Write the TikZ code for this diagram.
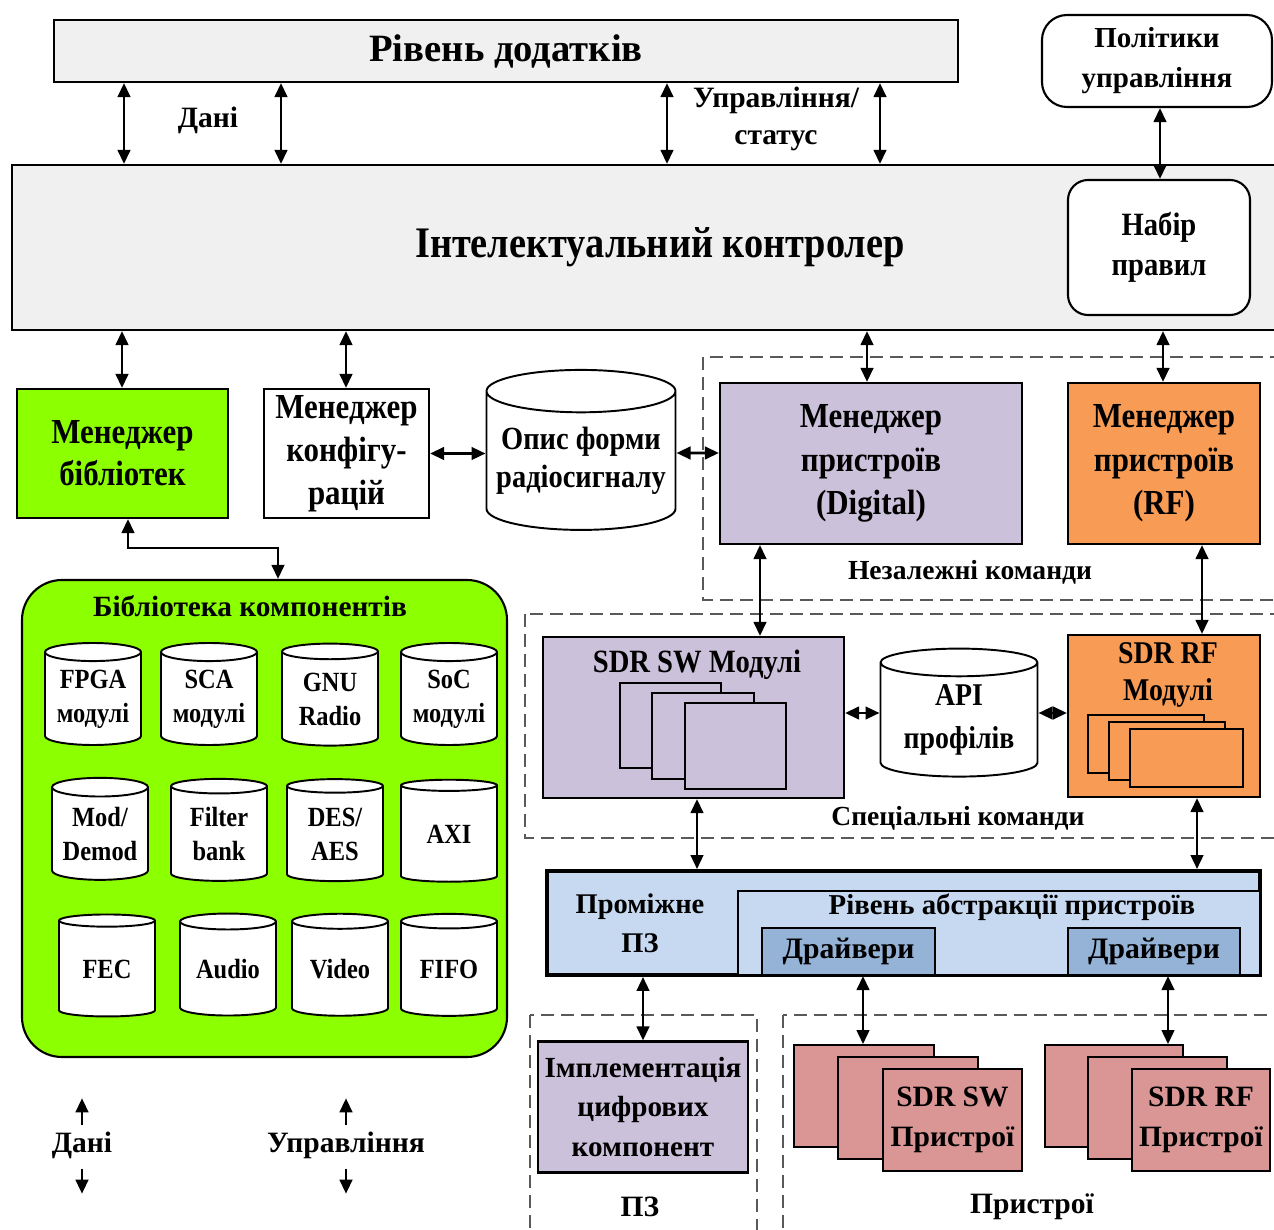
\documentclass[tikz,border=0pt]{standalone}
\usepackage{fontspec}
\setmainfont{Liberation Serif}
\newfontfamily\condfont{Liberation Serif}[FakeStretch=0.88]
\usetikzlibrary{arrows.meta,shapes.geometric,fit,positioning}
\definecolor{lgray}{HTML}{F0F0F0}
\definecolor{libgreen}{HTML}{8CFF00}
\definecolor{lav}{HTML}{CCC1DA}
\definecolor{rforange}{HTML}{F79B55}
\definecolor{mwblue}{HTML}{C6D9F1}
\definecolor{drvblue}{HTML}{95B3D7}
\definecolor{devpink}{HTML}{DA9694}
\begin{document}
\begin{tikzpicture}[x=0.2mm,y=-0.2mm,
  fnt/.style 2 args={font=\bfseries\fontsize{#1}{#2}\selectfont},
  cfnt/.style 2 args={font=\condfont\bfseries\fontsize{#1}{#2}\selectfont},
  sz/.style 2 args={minimum width=#1, minimum height=#2},
  box/.style={draw, line width=1.2pt, inner sep=0pt, align=center},
  page/.style={draw, line width=1pt, inner sep=0pt, align=center},
  db/.style={cylinder, shape border rotate=90, aspect=0.25, draw, fill=white,
    line width=1.1pt, inner sep=0pt, align=center},
  cell/.style={db, minimum width=19.2mm, minimum height=20.4mm, cfnt={15.8}{19.3}},
  lbl/.style={inner sep=0pt, align=center},
  arr/.style={{Triangle[length=2.8mm,width=2.5mm]}-{Triangle[length=2.8mm,width=2.5mm]}, line width=1.5pt},
  tip/.style={-{Triangle[length=2.8mm,width=2.5mm]}, line width=1.5pt},
  grp/.style={draw=black!65, line width=1pt, dash pattern=on 2.6mm off 1.4mm}]
\useasboundingbox (0,0) rectangle (1274,1230);
\clip (0,0) rectangle (1274,1230);

% dashed groups
\draw[grp] (703,357) rectangle (1290,600);
\draw[grp] (525,614) rectangle (1290,838);
\draw[grp] (530,1015) rectangle (757,1250);
\draw[grp] (783,1015) rectangle (1290,1250);

% top level
\node[box, fill=lgray, sz={180.8mm}{12.4mm}, fnt={22}{26}] (app) at (506,51) {Рівень додатків};
\node[box, rounded corners=5mm, fill=white, sz={46mm}{18.4mm}, fnt={16.5}{22.7}] (pol) at (1157,61) {Політики\\управління};
\node[box, fill=lgray, sz={259.2mm}{33mm}, cfnt={24.8}{28}] (ctrl) at (660,247.5) {Інтелектуальний контролер};
\node[box, rounded corners=4mm, fill=white, sz={36.4mm}{27mm}, cfnt={18.5}{22.7}] (rules) at (1159,247.5) {Набір\\правил};
\node[lbl, fnt={16.8}{21.5}] (data) at (208,120) {Дані};
\node[lbl, fnt={16.8}{21.5}] (ctlst) at (776,119) {Управління/\\статус};

% managers
\node[box, fill=libgreen, sz={42.2mm}{25.8mm}, cfnt={20}{23.8}] (libmgr) at (122.5,453.5) {Менеджер\\бібліотек};
\node[box, fill=white, sz={33mm}{25.8mm}, cfnt={20}{24.4}] (cfgmgr) at (346.5,453.5) {Менеджер\\конфігу-\\рацій};
\node[db, minimum width=37.8mm, minimum height=32mm, cfnt={18.4}{21.5}] (wave) at (581,461) {Опис форми\\радіосигналу};
\node[box, fill=lav, sz={60.4mm}{32.2mm}, cfnt={20}{24.7}] (digmgr) at (871,463.5) {Менеджер\\пристроїв\\(Digital)};
\node[box, fill=rforange, sz={38.4mm}{32.2mm}, cfnt={20}{24.7}] (rfmgr) at (1164,463.5) {Менеджер\\пристроїв\\(RF)};
\node[lbl, fnt={15.7}{20}] (indep) at (970,572) {Незалежні команди};

% component library
\node[box, fill=libgreen, rounded corners=8mm, fit={(22,580) (507,1057)}] (lib) {};
\node[lbl, fnt={16.7}{20}] (libttl) at (250,606) {Бібліотека компонентів};
\node[cell] (fpga) at (93,699) {FPGA\\модулі};
\node[cell] (sca) at (209,699) {SCA\\модулі};
\node[cell] (gnu) at (330,699) {GNU\\Radio};
\node[cell] (soc) at (449,699) {SoC\\модулі};
\node[cell] (mod) at (100,834) {Mod/\\Demod};
\node[cell] (filt) at (219,834) {Filter\\bank};
\node[cell] (des) at (335,834) {DES/\\AES};
\node[cell] (axi) at (449,834) {AXI};
\node[cell] (fec) at (107,969) {FEC};
\node[cell] (audio) at (228,969) {Audio};
\node[cell] (video) at (340,969) {Video};
\node[cell] (fifo) at (449,969) {FIFO};

% SDR modules
\node[box, fill=lav, fit={(543,637) (844,798)}] (swmod) {};
\node[lbl, cfnt={18.5}{20}] (swmodttl) at (697,665) {SDR SW Модулі};
\node[page, fill=lav, fit={(620,683) (721,768)}] (swp1) {};
\node[page, fill=lav, fit={(652,693) (754,779)}] (swp2) {};
\node[page, fill=lav, fit={(685,703) (786,789)}] (swp3) {};
\node[db, minimum width=31.4mm, minimum height=25.6mm, cfnt={18}{24.4}] (api) at (959,720) {API\\профілів};
\node[box, fill=rforange, fit={(1068,635) (1260,797)}] (rfmod) {};
\node[lbl, cfnt={18}{21.5}] (rfmodttl) at (1168,675) {SDR RF\\Модулі};
\node[page, fill=rforange, fit={(1088,715) (1204,773)}] (rfp1) {};
\node[page, fill=rforange, fit={(1109,722) (1225,780)}] (rfp2) {};
\node[page, fill=rforange, fit={(1130,729) (1243,787)}] (rfp3) {};
\node[lbl, fnt={15.7}{20}] (spec) at (958,818) {Спеціальні команди};

% middleware
\node[box, line width=2.2pt, fill=mwblue, fit={(547,871) (1260,975)}] (mw) {};
\node[lbl, fnt={16.2}{22}] (mwttl) at (640,923) {Проміжне\\ПЗ};
\node[box, fill=mwblue, fit={(738,891) (1260,975)}] (hal) {};
\node[lbl, fnt={16.4}{20}] (halttl) at (1012,907) {Рівень абстракції пристроїв};
\node[box, fill=drvblue, sz={34.6mm}{9.4mm}, fnt={16.9}{20}] (drv1) at (848.5,951.5) {Драйвери};
\node[box, fill=drvblue, sz={34.4mm}{9.4mm}, fnt={16.9}{20}] (drv2) at (1154,951.5) {Драйвери};

% bottom
\node[box, fill=lav, sz={42mm}{26.2mm}, fnt={16.6}{22.4}] (impl) at (643,1107) {Імплементація\\цифрових\\компонент};
\node[page, fill=devpink, fit={(794,1045) (934,1147)}] (swd1) {};
\node[page, fill=devpink, fit={(838,1057) (978,1159)}] (swd2) {};
\node[page, fill=devpink, sz={27.8mm}{20.4mm}, fnt={16.8}{22.7}] (swd3) at (952.5,1120) {SDR SW\\Пристрої};
\node[page, fill=devpink, fit={(1045,1045) (1183,1147)}] (rfd1) {};
\node[page, fill=devpink, fit={(1088,1057) (1227,1159)}] (rfd2) {};
\node[page, fill=devpink, sz={27.6mm}{20.4mm}, fnt={16.8}{22.7}] (rfd3) at (1201,1120) {SDR RF\\Пристрої};
\node[lbl, fnt={16.8}{20}] (swlbl) at (640,1207) {ПЗ};
\node[lbl, fnt={16.8}{20}] (devlbl) at (1032,1207) {Пристрої};

% legend
\node[lbl, fnt={16.8}{20}] (legd) at (82,1145) {Дані};
\node[lbl, fnt={16.8}{20}] (legc) at (346,1145) {Управління};
\draw[tip] (legd.north) ++(0,-6) -- ++(0,-27);
\draw[tip] (legd.south) ++(0,10) -- ++(0,25);
\draw[tip] (legc.north) ++(0,-6) -- ++(0,-27);
\draw[tip] (legc.south) ++(0,10) -- ++(0,25);

% connectors
\draw[arr] (app.south -| 124,0) -- (ctrl.north -| 124,0);
\draw[arr] (app.south -| 281,0) -- (ctrl.north -| 281,0);
\draw[arr] (app.south -| 667,0) -- (ctrl.north -| 667,0);
\draw[arr] (app.south -| 880,0) -- (ctrl.north -| 880,0);
\draw[arr] (pol.south -| 1160,0) -- (rules.north -| 1160,0);
\draw[arr] (ctrl.south -| 122,0) -- (libmgr.north -| 122,0);
\draw[arr] (ctrl.south -| 346,0) -- (cfgmgr.north -| 346,0);
\draw[arr] (ctrl.south -| 867,0) -- (digmgr.north -| 867,0);
\draw[arr] (ctrl.south -| 1163,0) -- (rfmgr.north -| 1163,0);
\draw[arr] (cfgmgr.east) -- (cfgmgr.east -| wave.west);
\draw[arr] (wave.west -| wave.east) ++(0,-8) -- (digmgr.west |- 0,453);
\draw[arr] (libmgr.south -| 128,0) -- (128,548) -- (278,548) -- (lib.north -| 278,0);
\draw[arr] (digmgr.south -| 760,0) -- (swmod.north -| 760,0);
\draw[arr] (rfmgr.south -| 1202,0) -- (rfmod.north -| 1202,0);
\draw[arr] (swmod.east |- 0,713) -- (api.west |- 0,713);
\draw[arr] (api.east |- 0,713) -- (rfmod.west |- 0,713);
\draw[arr] (swmod.south -| 697,0) -- (mw.north -| 697,0);
\draw[arr] (rfmod.south -| 1197,0) -- (mw.north -| 1197,0);
\draw[arr] (mw.south -| 643,0) -- (impl.north -| 643,0);
\draw[arr] (drv1.south -| 863,0) -- (swd1.north -| 863,0);
\draw[arr] (drv2.south -| 1168,0) -- (rfd1.north -| 1168,0);
\end{tikzpicture}
\end{document}
